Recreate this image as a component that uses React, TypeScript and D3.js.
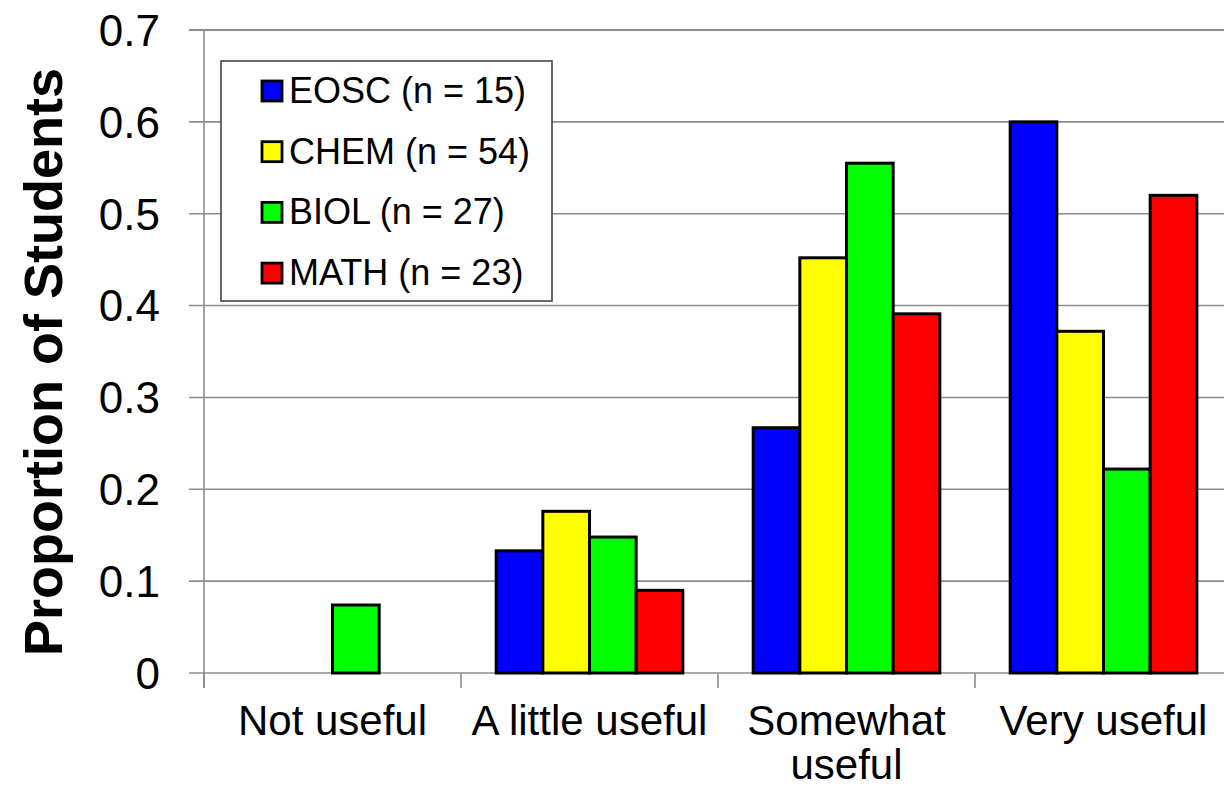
import React from 'react';
import * as d3 from 'd3';

// categories on the x axis (label lines for wrapping)
const categories = ['Not useful', 'A little useful', 'Somewhat useful', 'Very useful'];
const categoryLines = [['Not useful'], ['A little useful'], ['Somewhat', 'useful'], ['Very useful']];

const seriesNames = ['EOSC (n = 15)', 'CHEM (n = 54)', 'BIOL (n = 27)', 'MATH (n = 23)'];
const seriesColors = ['#0000ff', '#ffff00', '#00ff00', '#ff0000'];

const eosc = [0, 0.133, 0.267, 0.6];
const chem = [0, 0.176, 0.452, 0.372];
const biol = [0.074, 0.148, 0.555, 0.222];
const math = [0, 0.09, 0.391, 0.52];
const seriesValues = [eosc, chem, biol, math];

const yTicks = [0, 0.1, 0.2, 0.3, 0.4, 0.5, 0.6, 0.7];
const yTickLabels = ['0', '0.1', '0.2', '0.3', '0.4', '0.5', '0.6', '0.7'];

const FONT = '"Liberation Sans", Arial, sans-serif';

const App: React.FC = () => {
  const width = 1224;
  const height = 789;
  const plot = { left: 204, right: 1232, top: 30, bottom: 673 };

  const x0 = d3.scaleBand<string>()
    .domain(categories)
    .range([plot.left, plot.right])
    .padding(0);

  const x1 = d3.scaleBand<string>()
    .domain(seriesNames)
    .range([0, x0.bandwidth()])
    .paddingInner(0)
    .paddingOuter(0.754);

  const y = d3.scaleLinear()
    .domain([0, 0.7])
    .range([plot.bottom, plot.top]);

  const legend = { x: 221, y: 61, w: 331, h: 240, rowH: 60.7 };

  return (
    <svg width={width} height={height} style={{ position: 'absolute', left: 0, top: 0, background: '#fff' }}
      fontFamily={FONT}>
      {/* gridlines */}
      {yTicks.map((t, i) => (
        <line key={'g' + i} x1={plot.left - 15} x2={width} y1={y(t)} y2={y(t)}
          stroke={t === 0.7 ? '#666' : '#8c8c8c'} strokeWidth={1.6} />
      ))}
      {/* y axis line */}
      <line x1={plot.left} x2={plot.left} y1={plot.top} y2={plot.bottom + 15} stroke="#8c8c8c" strokeWidth={1.6} />
      {/* category ticks */}
      {categories.map((c, i) => (
        <line key={'xt' + i} x1={x0(c)!} x2={x0(c)!} y1={plot.bottom} y2={plot.bottom + 15}
          stroke="#8c8c8c" strokeWidth={1.6} />
      ))}
      {/* y tick labels */}
      {yTicks.map((t, i) => (
        <text key={'yl' + i} x={160} y={y(t)} dy="0.36em" textAnchor="end" fontSize={44} fill="#000">
          {yTickLabels[i]}
        </text>
      ))}
      {/* bars */}
      {categories.map((c, ci) => (
        <g key={'cat' + ci} transform={`translate(${x0(c)},0)`}>
          {seriesNames.map((s, si) => {
            const v = seriesValues[si][ci];
            if (!v) return null;
            return (
              <rect key={s} x={x1(s)!} y={y(v)} width={x1.bandwidth()} height={y(0) - y(v)}
                fill={seriesColors[si]} stroke="#000" strokeWidth={3} />
            );
          })}
        </g>
      ))}
      {/* x labels */}
      {categories.map((c, ci) => (
        <text key={'xl' + ci} x={x0(c)! + x0.bandwidth() / 2} y={735} textAnchor="middle" fontSize={42} fill="#000">
          {categoryLines[ci].map((ln, li) => (
            <tspan key={li} x={x0(c)! + x0.bandwidth() / 2} dy={li === 0 ? 0 : 44}>{ln}</tspan>
          ))}
        </text>
      ))}
      {/* y title */}
      <text transform="translate(62,362) rotate(-90)" textAnchor="middle" fontSize={54} fontWeight="bold" fill="#000">
        Proportion of Students
      </text>
      {/* legend */}
      <rect x={legend.x} y={legend.y} width={legend.w} height={legend.h} fill="#fff" stroke="#444" strokeWidth={1.6} />
      {seriesNames.map((s, si) => {
        const cy = 91 + si * legend.rowH;
        return (
          <g key={'lg' + si}>
            <rect x={262} y={cy - 10} width={20} height={20} fill={seriesColors[si]} stroke="#000" strokeWidth={2.8} />
            <text x={289} y={cy + 12} fontSize={36} fill="#000">{s}</text>
          </g>
        );
      })}
    </svg>
  );
};

export default App;
